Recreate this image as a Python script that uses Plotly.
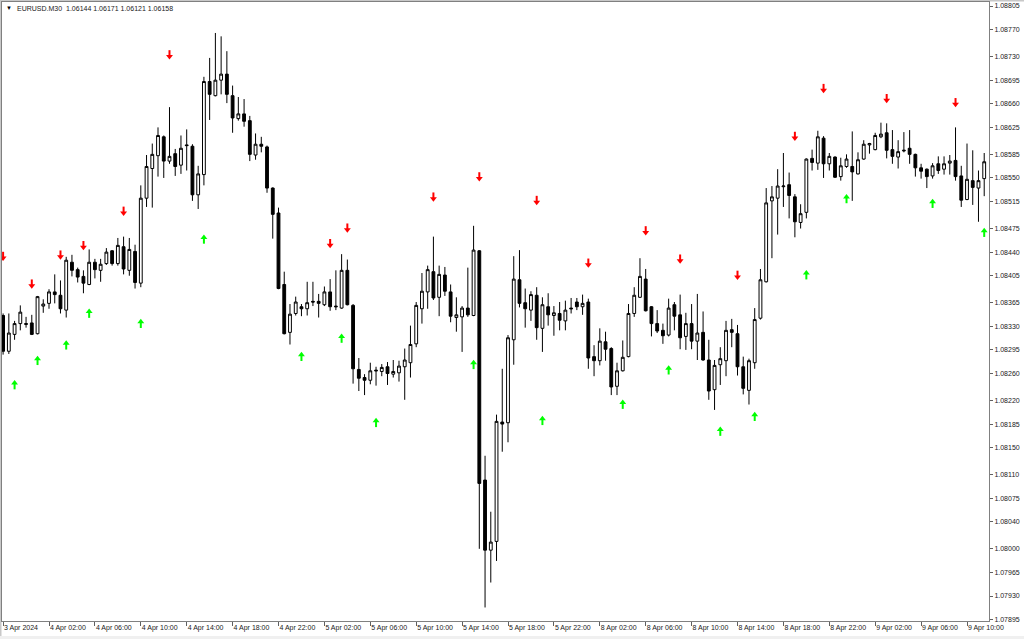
import plotly.graph_objects as go

# ---------------- data ----------------
open_ = [1.08346, 1.08293, 1.08318, 1.08334, 1.08334, 1.08335, 1.08319, 1.08360, 1.08364, 1.08381,
         1.08376, 1.08354, 1.08425, 1.08414, 1.08404, 1.08392, 1.08425, 1.08413, 1.08423, 1.08442,
         1.08423, 1.08448, 1.08413, 1.08441, 1.08394, 1.08520, 1.08564, 1.08583, 1.08611, 1.08575,
         1.08586, 1.08569, 1.08599, 1.08597, 1.08525, 1.08555, 1.08693, 1.08672, 1.08695, 1.08704,
         1.08672, 1.08638, 1.08645, 1.08635, 1.08584, 1.08600, 1.08596, 1.08535, 1.08498, 1.08392,
         1.08321, 1.08349, 1.08359, 1.08356, 1.08367, 1.08367, 1.08362, 1.08381, 1.08360, 1.08357,
         1.08413, 1.08361, 1.08266, 1.08254, 1.08250, 1.08265, 1.08263, 1.08270, 1.08259, 1.08261,
         1.08270, 1.08276, 1.08304, 1.08356, 1.08381, 1.08411, 1.08373, 1.08406, 1.08381, 1.08343,
         1.08344, 1.08357, 1.08346, 1.08442, 1.08102, 1.07998, 1.08011, 1.08188, 1.08187, 1.08310,
         1.08399, 1.08365, 1.08354, 1.08376, 1.08327, 1.08359, 1.08346, 1.08349, 1.08338, 1.08357,
         1.08366, 1.08359, 1.08366, 1.08285, 1.08279, 1.08307, 1.08297, 1.08241, 1.08264, 1.08285,
         1.08349, 1.08373, 1.08400, 1.08359, 1.08334, 1.08324, 1.08317, 1.08362, 1.08347, 1.08315,
         1.08334, 1.08308, 1.08321, 1.08280, 1.08236, 1.08273, 1.08279, 1.08325, 1.08319, 1.08270,
         1.08235, 1.08276, 1.08342, 1.08396, 1.08516, 1.08520, 1.08537, 1.08540, 1.08522, 1.08484,
         1.08499, 1.08579, 1.08572, 1.08609, 1.08571, 1.08581, 1.08552, 1.08567, 1.08567, 1.08556,
         1.08578, 1.08599, 1.08592, 1.08611, 1.08617, 1.08592, 1.08581, 1.08590, 1.08594, 1.08585,
         1.08565, 1.08563, 1.08553, 1.08571, 1.08563, 1.08572, 1.08576, 1.08553, 1.08518, 1.08546,
         1.08535, 1.08549]

high_ = [1.08349, 1.08349, 1.08338, 1.08361, 1.08344, 1.08347, 1.08375, 1.08370, 1.08385, 1.08407,
         1.08398, 1.08433, 1.08436, 1.08417, 1.08413, 1.08444, 1.08430, 1.08430, 1.08446, 1.08443,
         1.08461, 1.08463, 1.08461, 1.08451, 1.08539, 1.08584, 1.08601, 1.08625, 1.08613, 1.08655,
         1.08593, 1.08613, 1.08622, 1.08600, 1.08568, 1.08700, 1.08728, 1.08765, 1.08760, 1.08738,
         1.08687, 1.08670, 1.08667, 1.08642, 1.08616, 1.08611, 1.08598, 1.08536, 1.08506, 1.08411,
         1.08363, 1.08374, 1.08363, 1.08396, 1.08396, 1.08378, 1.08389, 1.08400, 1.08413, 1.08437,
         1.08429, 1.08363, 1.08283, 1.08259, 1.08276, 1.08270, 1.08274, 1.08277, 1.08280, 1.08279,
         1.08297, 1.08331, 1.08366, 1.08409, 1.08420, 1.08463, 1.08420, 1.08418, 1.08392, 1.08373,
         1.08360, 1.08417, 1.08479, 1.08443, 1.08138, 1.08055, 1.08199, 1.08267, 1.08317, 1.08434,
         1.08443, 1.08386, 1.08382, 1.08388, 1.08373, 1.08379, 1.08360, 1.08366, 1.08368, 1.08372,
         1.08372, 1.08377, 1.08371, 1.08302, 1.08327, 1.08322, 1.08299, 1.08276, 1.08309, 1.08363,
         1.08388, 1.08431, 1.08415, 1.08360, 1.08354, 1.08334, 1.08371, 1.08366, 1.08377, 1.08350,
         1.08363, 1.08378, 1.08352, 1.08310, 1.08280, 1.08299, 1.08338, 1.08341, 1.08332, 1.08285,
         1.08282, 1.08357, 1.08415, 1.08535, 1.08538, 1.08563, 1.08587, 1.08558, 1.08526, 1.08511,
         1.08579, 1.08592, 1.08620, 1.08612, 1.08587, 1.08582, 1.08580, 1.08585, 1.08619, 1.08588,
         1.08606, 1.08602, 1.08617, 1.08632, 1.08631, 1.08621, 1.08606, 1.08618, 1.08621, 1.08586,
         1.08571, 1.08564, 1.08572, 1.08582, 1.08582, 1.08584, 1.08625, 1.08568, 1.08601, 1.08591,
         1.08561, 1.08587]

low_ = [1.08288, 1.08289, 1.08310, 1.08324, 1.08328, 1.08317, 1.08318, 1.08350, 1.08356, 1.08364,
        1.08349, 1.08343, 1.08404, 1.08395, 1.08379, 1.08391, 1.08401, 1.08396, 1.08421, 1.08420,
        1.08420, 1.08407, 1.08405, 1.08386, 1.08388, 1.08507, 1.08506, 1.08552, 1.08550, 1.08571,
        1.08553, 1.08556, 1.08561, 1.08516, 1.08504, 1.08539, 1.08636, 1.08671, 1.08674, 1.08661,
        1.08617, 1.08635, 1.08626, 1.08575, 1.08577, 1.08588, 1.08528, 1.08460, 1.08385, 1.08318,
        1.08303, 1.08346, 1.08345, 1.08346, 1.08360, 1.08343, 1.08360, 1.08353, 1.08354, 1.08356,
        1.08361, 1.08245, 1.08234, 1.08228, 1.08244, 1.08242, 1.08256, 1.08243, 1.08254, 1.08248,
        1.08221, 1.08254, 1.08299, 1.08334, 1.08356, 1.08369, 1.08345, 1.08375, 1.08336, 1.08322,
        1.08292, 1.08344, 1.08345, 1.08000, 1.07913, 1.07950, 1.07982, 1.08144, 1.08158, 1.08273,
        1.08358, 1.08328, 1.08338, 1.08310, 1.08292, 1.08331, 1.08316, 1.08324, 1.08324, 1.08349,
        1.08354, 1.08347, 1.08267, 1.08256, 1.08272, 1.08279, 1.08228, 1.08228, 1.08263, 1.08284,
        1.08344, 1.08372, 1.08352, 1.08315, 1.08320, 1.08304, 1.08315, 1.08324, 1.08296, 1.08295,
        1.08296, 1.08280, 1.08279, 1.08221, 1.08206, 1.08243, 1.08256, 1.08299, 1.08257, 1.08229,
        1.08214, 1.08267, 1.08340, 1.08395, 1.08431, 1.08466, 1.08507, 1.08490, 1.08462, 1.08475,
        1.08490, 1.08561, 1.08562, 1.08550, 1.08561, 1.08550, 1.08546, 1.08565, 1.08516, 1.08555,
        1.08577, 1.08586, 1.08591, 1.08609, 1.08579, 1.08571, 1.08564, 1.08588, 1.08571, 1.08552,
        1.08549, 1.08535, 1.08549, 1.08556, 1.08555, 1.08555, 1.08546, 1.08507, 1.08517, 1.08510,
        1.08485, 1.08523]

close_ = [1.08293, 1.08320, 1.08334, 1.08351, 1.08333, 1.08318, 1.08374, 1.08363, 1.08381, 1.08377,
          1.08356, 1.08428, 1.08413, 1.08403, 1.08394, 1.08425, 1.08414, 1.08422, 1.08440, 1.08423,
          1.08450, 1.08415, 1.08444, 1.08395, 1.08520, 1.08567, 1.08585, 1.08613, 1.08575, 1.08582,
          1.08567, 1.08594, 1.08598, 1.08525, 1.08556, 1.08693, 1.08674, 1.08695, 1.08704, 1.08674,
          1.08639, 1.08645, 1.08634, 1.08585, 1.08600, 1.08597, 1.08535, 1.08496, 1.08386, 1.08319,
          1.08348, 1.08366, 1.08356, 1.08365, 1.08366, 1.08364, 1.08381, 1.08359, 1.08359, 1.08413,
          1.08362, 1.08267, 1.08253, 1.08250, 1.08264, 1.08264, 1.08269, 1.08260, 1.08263, 1.08271,
          1.08280, 1.08303, 1.08361, 1.08382, 1.08414, 1.08372, 1.08407, 1.08382, 1.08345, 1.08347,
          1.08357, 1.08347, 1.08443, 1.08097, 1.07998, 1.08010, 1.08189, 1.08185, 1.08313, 1.08400,
          1.08364, 1.08356, 1.08377, 1.08328, 1.08362, 1.08347, 1.08350, 1.08339, 1.08354, 1.08356,
          1.08359, 1.08364, 1.08283, 1.08279, 1.08308, 1.08296, 1.08240, 1.08264, 1.08284, 1.08349,
          1.08376, 1.08404, 1.08353, 1.08334, 1.08323, 1.08316, 1.08357, 1.08345, 1.08313, 1.08334,
          1.08308, 1.08320, 1.08280, 1.08234, 1.08272, 1.08282, 1.08324, 1.08321, 1.08270, 1.08238,
          1.08279, 1.08340, 1.08399, 1.08513, 1.08522, 1.08538, 1.08538, 1.08524, 1.08485, 1.08497,
          1.08578, 1.08573, 1.08611, 1.08571, 1.08582, 1.08551, 1.08568, 1.08578, 1.08559, 1.08577,
          1.08600, 1.08601, 1.08613, 1.08615, 1.08591, 1.08582, 1.08589, 1.08591, 1.08585, 1.08565,
          1.08560, 1.08552, 1.08568, 1.08561, 1.08571, 1.08575, 1.08552, 1.08517, 1.08548, 1.08536,
          1.08546, 1.08574]

bars = list(range(len(open_)))

sell_bars = [0, 5, 10, 14, 21, 29, 57, 60, 75, 83, 93, 102, 112, 118, 128, 138, 143, 154, 166]
sell_levels = [1.08433, 1.08392, 1.08435, 1.08449, 1.08500, 1.08732, 1.08452, 1.08475, 1.08521, 1.08551,
               1.08516, 1.08423, 1.08471, 1.08429, 1.08405, 1.08611, 1.08682, 1.08667, 1.08661]
buy_bars = [2, 6, 11, 15, 24, 35, 52, 59, 65, 82, 94, 108, 116, 125, 131, 140, 147, 162, 171]
buy_levels = [1.08244, 1.08280, 1.08303, 1.08350, 1.08335, 1.08460, 1.08286, 1.08313, 1.08188, 1.08274,
              1.08191, 1.08215, 1.08266, 1.08175, 1.08197, 1.08407, 1.08520, 1.08513, 1.08470]

x_tick_bars = [0, 8, 16, 24, 32, 40, 48, 56, 64, 72, 80, 88, 96, 104, 112, 120, 128, 136, 144, 152, 160, 168]
x_tick_labels = ["3 Apr 2024", "4 Apr 02:00", "4 Apr 06:00", "4 Apr 10:00", "4 Apr 14:00", "4 Apr 18:00",
                 "4 Apr 22:00", "5 Apr 02:00", "5 Apr 06:00", "5 Apr 10:00", "5 Apr 14:00", "5 Apr 18:00",
                 "5 Apr 22:00", "8 Apr 02:00", "8 Apr 06:00", "8 Apr 10:00", "8 Apr 14:00", "8 Apr 18:00",
                 "8 Apr 22:00", "9 Apr 02:00", "9 Apr 06:00", "9 Apr 10:00"]
y_tick_labels = ["1.08805", "1.08770", "1.08730", "1.08695", "1.08660", "1.08625", "1.08585", "1.08550",
                 "1.08515", "1.08475", "1.08440", "1.08405", "1.08365", "1.08330", "1.08295", "1.08260",
                 "1.08220", "1.08185", "1.08150", "1.08110", "1.08075", "1.08040", "1.08000", "1.07965",
                 "1.07930", "1.07895"]

title_text = "EURUSD.M30  1.06144 1.06171 1.06121 1.06158"

# ---------------- geometry / style ----------------
W, H = 1024, 639
ML, MR, MT, MB = 2, 35, 2, 18
PW, PH = W - ML - MR, H - MT - MB
PRICE_PER_PX = 0.00001483
BAR_PX = 5.7375
FIRST_BAR_PX = 1.1
x_range = [-FIRST_BAR_PX / BAR_PX, (PW - FIRST_BAR_PX) / BAR_PX]
y_top = float(y_tick_labels[0]) + (6 - MT) * PRICE_PER_PX
y_range = [y_top - PH * PRICE_PER_PX, y_top]

FONT = "Liberation Sans"
TXT = "#1a1a1a"
RED = "#ff0000"
LIME = "#00ff00"


def px_x(px):
    return (px - ML) / PW


def px_y(py):
    return (H - MB - py) / PH


d = PRICE_PER_PX
fig = go.Figure()
fig.add_trace(go.Candlestick(
    x=bars, open=open_, high=high_, low=low_, close=close_,
    increasing=dict(line=dict(color="#000000", width=1), fillcolor="#ffffff"),
    decreasing=dict(line=dict(color="#000000", width=1), fillcolor="#000000"),
    whiskerwidth=0, showlegend=False, hoverinfo="skip"))

# sell arrows (red, pointing down)
fig.add_trace(go.Scatter(x=sell_bars, y=[v - 1.25 * d for v in sell_levels], mode="markers",
                         marker=dict(symbol="triangle-down", size=6, color=RED, line=dict(width=0)),
                         showlegend=False, hoverinfo="skip"))
fig.add_trace(go.Scatter(x=sell_bars, y=[v + 2.25 * d for v in sell_levels], mode="markers",
                         marker=dict(symbol="line-ns", size=4, color=RED, line=dict(width=2, color=RED)),
                         showlegend=False, hoverinfo="skip"))
# buy arrows (lime, pointing up)
fig.add_trace(go.Scatter(x=buy_bars, y=[v + 1.25 * d for v in buy_levels], mode="markers",
                         marker=dict(symbol="triangle-up", size=6, color=LIME, line=dict(width=0)),
                         showlegend=False, hoverinfo="skip"))
fig.add_trace(go.Scatter(x=buy_bars, y=[v - 2.25 * d for v in buy_levels], mode="markers",
                         marker=dict(symbol="line-ns", size=4, color=LIME, line=dict(width=2, color=LIME)),
                         showlegend=False, hoverinfo="skip"))

fig.update_xaxes(range=x_range, tickmode="array", tickvals=x_tick_bars, ticktext=x_tick_labels,
                 ticks="outside", ticklen=4, tickcolor="#606060", tickwidth=1,
                 showline=True, linecolor="#808080", linewidth=1, mirror=True,
                 showgrid=False, zeroline=False, rangeslider=dict(visible=False),
                 ticklabelposition="outside right",
                 tickfont=dict(family=FONT, size=7, color=TXT), fixedrange=True)
fig.update_yaxes(range=y_range, side="right", tickmode="array",
                 tickvals=[float(t) for t in y_tick_labels], ticktext=y_tick_labels,
                 ticks="outside", ticklen=3, tickcolor="#606060", tickwidth=1,
                 showline=True, linecolor="#808080", linewidth=1, mirror=True,
                 showgrid=False, zeroline=False,
                 tickfont=dict(family=FONT, size=7, color=TXT), fixedrange=True)

fig.update_layout(
    width=W, height=H, autosize=False,
    margin=dict(l=ML, r=MR, t=MT, b=MB, pad=0),
    plot_bgcolor="#ffffff", paper_bgcolor="#ffffff", showlegend=False,
    annotations=[
        dict(text="▼", x=px_x(4), y=px_y(8), xref="paper", yref="paper", xanchor="left",
             yanchor="middle", showarrow=False, font=dict(family=FONT, size=6, color="#000000")),
        dict(text=title_text, x=px_x(15), y=px_y(8), xref="paper", yref="paper", xanchor="left",
             yanchor="middle", showarrow=False, font=dict(family=FONT, size=7, color=TXT)),
    ],
    shapes=[
        dict(type="rect", xref="paper", yref="paper", x0=px_x(0), x1=px_x(1.5), y0=px_y(H), y1=px_y(0),
             fillcolor="#c8c8c8", line=dict(width=0), layer="below"),
        dict(type="rect", xref="paper", yref="paper", x0=px_x(0), x1=px_x(W), y0=px_y(1.5), y1=px_y(0),
             fillcolor="#c8c8c8", line=dict(width=0), layer="below"),
        dict(type="rect", xref="paper", yref="paper", x0=px_x(0), x1=px_x(W), y0=px_y(H), y1=px_y(636),
             fillcolor="#f0f0f0", line=dict(width=0), layer="below"),
    ],
)

fig.write_html("out.html", config={"displayModeBar": False},
               post_script="document.body.style.margin='0';document.body.style.overflow='hidden';")
